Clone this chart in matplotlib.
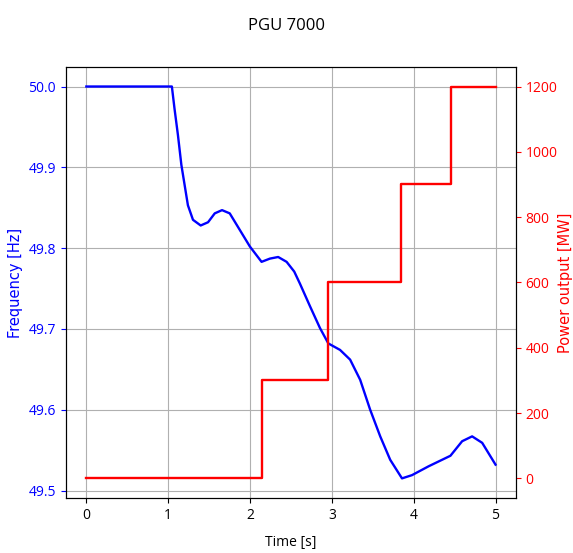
import matplotlib
matplotlib.use("Agg")
import matplotlib.pyplot as plt

plt.rcParams['font.family'] = ['Open Sans', 'DejaVu Sans']

# frequency response
time_s = [0.0, 1.045, 1.078, 1.119, 1.161, 1.201, 1.241, 1.303, 1.397, 1.487,
          1.569, 1.658, 1.752, 1.854, 1.998, 2.141, 2.243, 2.344, 2.447, 2.540,
          2.610, 2.733, 2.855, 2.957, 3.100, 3.223, 3.346, 3.468, 3.591, 3.713,
          3.857, 3.979, 4.183, 4.449, 4.592, 4.714, 4.837, 5.0]
freq_hz = [50.0, 50.0, 49.972, 49.940, 49.903, 49.878, 49.853, 49.835, 49.828, 49.832,
           49.843, 49.847, 49.843, 49.826, 49.802, 49.783, 49.787, 49.789, 49.783, 49.771,
           49.756, 49.728, 49.701, 49.682, 49.674, 49.662, 49.637, 49.600, 49.567, 49.538,
           49.515, 49.519, 49.530, 49.543, 49.561, 49.567, 49.559, 49.532]

# power output steps
step_time = [0.0, 2.15, 2.95, 3.85, 4.45, 5.0]
step_power = [0, 300, 600, 900, 1200, 1200]

fig = plt.figure(figsize=(5.73, 5.53), dpi=100)
ax1 = fig.add_axes([0.115, 0.0995, 0.7855, 0.7795])

ax1.plot(time_s, freq_hz, color='blue', linewidth=1.7)
ax1.set_xlabel('Time [s]', labelpad=9)
ax1.set_ylabel('Frequency [Hz]', color='blue', family='DejaVu Sans', fontsize=10.5)
ax1.tick_params(axis='y', colors='blue')
ax1.grid(True)

ax2 = ax1.twinx()
ax2.step(step_time, step_power, where='post', color='red', linewidth=1.7)
ax2.set_ylabel('Power output [MW]', color='red', family='DejaVu Sans', fontsize=10.5,
               labelpad=0)
ax2.tick_params(axis='y', colors='red')

fig.suptitle('PGU 7000', y=0.967)
fig.savefig('out.png', dpi=100)
